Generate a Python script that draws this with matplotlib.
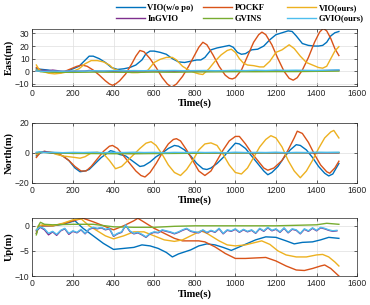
import numpy as np
import matplotlib
matplotlib.use("Agg")
import matplotlib.pyplot as plt

# ---------------- data ----------------
names = ["VIO(w/o po)", "POCKF", "VIO(ours)", "InGVIO", "GVINS", "GVIO(ours)"]
colors = ["#0072BD", "#D95319", "#EDB120", "#7E2F8E", "#77AC30", "#4DBEEE"]

# East
e_blue_t = [20,50,80,110,140,170,200,230,255,280,300,330,360,390,420,450,480,510,540,560,580,600,630,660,690,720,750,780,810,830,850,880,910,940,970,990,1010,1030,1050,1080,1110,1140,1170,1200,1230,1260,1280,1300,1330,1360,1390,1410,1430,1450,1470,1490,1510]
e_blue_v = [2,1.5,1,0,-1,0,2,4,8,12,12,10,7,3,1.5,2,3,5,9,14,16,16,15,13.5,10,7.5,7,8,9,9,11,17,18.5,19.5,20.5,19,15,13.5,14,17,17.5,20,25,29,30.5,32,31.5,28,22,20.5,20,20,20.5,23,28,30.5,31.5]
e_orng_t = [20,40,60,80,100,130,160,190,220,245,270,300,330,360,380,395,410,430,460,490,510,530,550,580,610,640,665,686,710,740,770,800,820,840,860,890,920,950,970,985,1000,1030,1060,1090,1115,1131,1150,1180,1210,1240,1265,1285,1305,1330,1360,1390,1415,1433,1450,1470,1490,1510]
e_orng_v = [3,1,0.5,0,-0.5,-1,0,2,4,5,4,1,-3,-7.5,-10,-11,-10,-7.5,-2,6,12,16.5,15.5,10,3,-5,-10,-12.5,-10,-4,4,13,19,23,21,13,4,-3,-5.5,-6,-5,1,12,23,29,31,29,21,10,0,-5.5,-7,-5,1,11,23,31,34,32,26,18,12.5]
e_yel_t = [20,35,50,80,110,140,170,200,230,260,290,320,350,380,400,430,460,490,520,550,570,600,630,660,690,710,740,770,800,820,840,870,900,930,960,980,1000,1020,1040,1060,1090,1120,1140,1170,1200,1230,1265,1290,1320,1350,1380,1410,1430,1450,1470,1490,1510]
e_yel_v = [5,1,0,-1.5,-2,-1.5,-0.5,0,2,6,8.5,8.5,7.5,5,2,0.5,-0.5,-1,-1,-0.5,1,7,9.5,11,11,9,4,1,-1,-2,-2.5,2,8,13,16.5,17.5,15,10,6.5,5,4.5,3.5,3.5,8,15,17,21,18,12,7,5,3,2.5,4,10,16,19.5]
e_pur_t = [20,40,60,80,100,120,140,160,200,260,280,300,320,400,500,600,700,800,900,1000,1100,1200,1300,1400,1510]
e_pur_v = [0.5,0.2,0.8,0.5,1,0.6,0.2,0,0,0.2,0.7,0.3,0,0,0.2,0.3,0.1,0.2,0.3,0.2,0.3,0.4,0.5,0.5,0.8]
e_grn_t = [20,40,60,100,200,300,400,500,600,700,800,900,1000,1100,1200,1300,1400,1510]
e_grn_v = [1,-0.3,-0.5,-0.7,-0.8,-0.6,-0.7,-0.8,-0.6,-0.7,-0.5,-0.4,-0.3,-0.3,-0.2,-0.2,0,0.2]
e_cyn_t = [20,40,60,100,150,200,250,300,350,400,450,500,550,600,650,700,750,800,850,900,950,1000,1050,1100,1150,1200,1250,1300,1350,1400,1450,1510]
e_cyn_v = [0.3,0.1,0,0.2,0.1,0.3,0.2,0.5,0.3,0.6,0.4,0.6,0.5,0.8,0.6,0.7,0.5,0.6,0.7,0.5,0.6,0.8,0.6,0.9,0.7,1.0,0.8,0.9,0.8,0.7,0.9,1.2]

# North
n_blue_t = [20,40,60,90,120,150,180,210,235,260,280,310,340,370,385,400,430,460,490,510,530,550,580,610,640,670,700,720,750,780,810,840,860,880,910,940,970,1000,1020,1050,1080,1110,1140,1160,1180,1210,1240,1270,1300,1320,1350,1380,1410,1440,1460,1480,1510]
n_blue_v = [-2,0,0.5,0,-0.5,-2,-5,-10,-12.5,-12,-11,-7,-3,0,1.5,1,-1,-2,-5,-7,-9,-8.5,-6,-2.5,0,3,5,4.5,2,-2,-7,-10.5,-11,-10,-7,-3,2,6.5,6,3,-2,-7,-12,-14.5,-13,-9,-3,2,5.5,5,2,-3,-9,-13.5,-15.3,-14,-7]
n_orng_t = [20,40,60,90,120,150,180,210,240,265,290,320,350,380,395,420,450,480,510,535,555,580,610,640,670,695,710,730,760,790,820,850,880,910,940,970,1000,1020,1050,1080,1110,1140,1160,1190,1230,1260,1290,1305,1330,1360,1390,1420,1450,1465,1490,1510]
n_orng_v = [-3,0.5,1,0.5,0,-2,-5,-9,-12,-12,-9,-4,1,4.5,5,3,-2,-7,-12,-15,-16,-13,-7,0,6,9,9.5,8,2,-5,-12,-15,-12,-5,2,8,11,11,6,0,-5,-10,-11.5,-10,-5,2,10,14.5,13,7,-1,-8,-12.5,-13.5,-10,-5.5]
n_yel_t = [20,40,60,90,120,150,180,210,235,260,290,320,350,380,410,440,470,500,530,560,585,610,640,670,700,730,760,790,820,850,880,910,940,970,1000,1030,1060,1090,1120,1150,1175,1200,1230,1260,1290,1320,1350,1380,1410,1440,1470,1485,1510]
n_yel_v = [-1,0.5,1,0.5,-1,-2,-2.5,-3,-3.5,-2.5,0,0.5,-0.5,-5,-10.5,-9,-5,-1,3,6.5,7.5,5,-1,-8,-13,-15,-11,-5,2,6,6.7,5,-1,-8,-13,-14,-10,-3,4,9,11.5,10,4,-5,-12,-16.5,-12,-5,3,10,14,15,10]
n_pur_t = [20,40,60,80,100,150,200,300,400,500,600,700,800,900,1000,1100,1200,1300,1400,1510]
n_pur_v = [0,0.5,1,0.5,0,0,-0.3,0,-0.2,-0.3,-0.2,0,-0.1,0,0.1,0,0,0.1,0,0]
n_grn_t = [20,40,60,100,200,300,400,500,600,700,800,900,1000,1100,1200,1300,1400,1510]
n_grn_v = [0,0.5,0.3,0,-0.3,-0.4,-0.5,-0.5,-0.4,-0.3,-0.2,-0.1,0,0,0.1,0.1,0.2,0.2]
n_cyn_t = [20,40,60,100,150,200,250,300,350,400,450,500,550,600,650,700,750,800,850,900,950,1000,1050,1100,1150,1200,1250,1300,1350,1400,1450,1510]
n_cyn_v = [0.5,0.8,0.3,0.5,0.2,0.4,0.3,0.5,0.2,0.4,0.3,0.5,0.3,0.4,0.2,0.4,0.3,0.5,0.3,0.4,0.2,0.5,0.3,0.4,0.3,0.5,0.2,0.4,0.3,0.5,0.4,0.5]

# Up
u_blue_t = [20,30,50,100,150,210,250,300,350,400,450,500,540,580,620,660,690,720,780,820,860,900,940,980,1020,1060,1100,1150,1200,1250,1290,1330,1380,1420,1460,1510]
u_blue_v = [-1.5,-0.3,0,0,0.3,1,-0.5,-2,-3.5,-4.7,-4.5,-4.3,-3.8,-4,-4.5,-5.3,-6.2,-5.6,-4.8,-4,-3.6,-3.8,-4.3,-4.9,-4.2,-3.5,-2.8,-2.2,-2.3,-3,-3.6,-3.3,-3.2,-2.8,-2.3,-2.5]
u_orng_t = [20,30,50,100,150,200,250,300,350,400,450,500,520,560,600,650,700,740,780,820,850,900,950,1000,1050,1100,1150,1200,1250,1300,1340,1380,1420,1440,1470,1510]
u_orng_v = [-1.5,-0.3,0,0,0.4,1,1.5,0.8,0,-0.8,0,1,1.5,0.5,-0.5,-1.5,-2.5,-3,-3,-3,-3.2,-4.2,-5.5,-6.5,-6.5,-6.4,-6.3,-7,-8,-8.8,-8.9,-8.5,-8,-7.8,-8.5,-10]
u_yel_t = [20,30,50,100,150,200,240,280,320,360,400,450,500,550,600,650,700,740,780,830,860,920,960,1000,1050,1100,1130,1170,1210,1250,1300,1350,1400,1430,1460,1490,1510]
u_yel_v = [-1,0,0.2,0,0.5,1.2,1.4,0,-1,-2,-2.6,-2,-1.2,-1.2,-2,-2.8,-3.1,-2.8,-2,-1,-1.5,-3,-3.8,-4,-3.8,-3.3,-3,-3.7,-5,-5.8,-6.2,-6.2,-5.8,-5.7,-6.2,-7.2,-8]
u_grn_t = [20,30,40,60,100,200,300,400,500,600,700,800,900,1000,1100,1200,1300,1400,1450,1510]
u_grn_v = [-1.8,0,0.7,0.3,0.2,0.3,0.3,-0.2,-0.3,-0.3,-0.1,0,0,0,0,0,0.1,0.2,0.5,0.3]
u_noisy_t = np.arange(20, 1501, 20)
u_cyn_v = [-0.8,-0.2,-0.6,-1.5,-1.1,-1.7,-0.9,-0.5,-1.5,-1.0,-1.3,-0.7,-1.5,-0.6,-0.3,-0.5,-0.3,-0.7,-0.5,-2.0,
           -1.5,-1.2,0.2,-1.0,-1.5,-1.3,-1.7,-2.2,-1.5,-1.2,-1.3,-0.8,-1.0,-1.2,-1.5,-1.2,-0.8,-0.5,-1.0,-1.2,
           -1.3,-0.8,-1.3,-0.9,-1.2,-0.5,-1.5,-0.8,-1.0,-0.6,-1.2,-0.7,-1.1,-0.8,-1.4,-0.5,-1.0,-0.3,-0.9,-0.6,
           -1.2,-0.4,-1.3,-0.6,-0.8,-1.5,-0.6,-1.0,-0.4,-0.9,-0.3,-0.5,-0.8,-1.0,-0.9]
u_pur_v = [-1.0,-0.3,-0.8,-1.8,-1.2,-1.9,-1.0,-0.6,-1.7,-1.1,-1.4,-0.8,-1.6,-0.7,-0.4,-0.6,-0.4,-0.8,-0.6,-2.1,
           -1.6,-1.3,0.1,-1.1,-1.6,-1.4,-1.8,-2.3,-1.6,-1.3,-1.4,-0.9,-1.1,-1.3,-1.6,-1.3,-0.9,-0.6,-1.1,-1.3,
           -1.4,-0.9,-1.4,-1.0,-1.3,-0.6,-1.6,-0.9,-1.1,-0.7,-1.3,-0.8,-1.2,-0.9,-1.5,-0.6,-1.1,-0.4,-1.0,-0.7,
           -1.3,-0.5,-1.4,-0.7,-0.9,-1.6,-0.7,-1.1,-0.5,-1.0,-0.4,-0.6,-0.9,-1.1,-1.0]

xticks = [0, 200, 400, 600, 800, 1000, 1200, 1400, 1600]

# ---------------- style ----------------
serif_b = dict(family="Liberation Serif", weight="bold")
plt.rcParams["font.family"] = ["Liberation Sans", "DejaVu Sans"]
plt.rcParams["font.size"] = 6.2
axcol = "#262626"

fig = plt.figure(figsize=(3.7, 3.05), dpi=100)
left, width = 0.0873, 0.878
ax1 = fig.add_axes([left, 0.718, width, 0.187])
ax2 = fig.add_axes([left, 0.400, width, 0.197])
ax3 = fig.add_axes([left, 0.095, width, 0.191])

def style(ax, ylim, yticks, ylabel, xlabelpad):
    ax.set_xlim(0, 1600)
    ax.set_ylim(*ylim)
    ax.set_xticks(xticks)
    ax.set_yticks(yticks)
    ax.grid(True, color="#dedede", linewidth=0.5)
    ax.set_axisbelow(True)
    ax.tick_params(direction="in", length=2.5, width=0.5, top=True, right=True,
                   colors=axcol, labelcolor=axcol, labelsize=6.2, pad=2)
    for s in ax.spines.values():
        s.set_color(axcol)
        s.set_linewidth(0.5)
    ax.set_xlabel("Time(s)", fontsize=7.5, labelpad=xlabelpad, **serif_b)
    ax.set_ylabel(ylabel, fontsize=7.5, labelpad=1, **serif_b)

lw = 1.0
east = [(e_blue_t, e_blue_v), (e_orng_t, e_orng_v), (e_yel_t, e_yel_v),
        (e_pur_t, e_pur_v), (e_grn_t, e_grn_v), (e_cyn_t, e_cyn_v)]
north = [(n_blue_t, n_blue_v), (n_orng_t, n_orng_v), (n_yel_t, n_yel_v),
         (n_pur_t, n_pur_v), (n_grn_t, n_grn_v), (n_cyn_t, n_cyn_v)]
up = [(u_blue_t, u_blue_v), (u_orng_t, u_orng_v), (u_yel_t, u_yel_v),
      (u_noisy_t, u_pur_v), (u_grn_t, u_grn_v), (u_noisy_t, u_cyn_v)]

handles = []
for (t, v), c, n in zip(east, colors, names):
    h, = ax1.plot(t, v, color=c, lw=lw, label=n)
    handles.append(h)
for (t, v), c in zip(north, colors):
    ax2.plot(t, v, color=c, lw=lw)
for (t, v), c in zip(up, colors):
    ax3.plot(t, v, color=c, lw=lw)

style(ax1, (-11.6, 33.5), [-10, 0, 10, 20, 30], "East(m)", 0.5)
style(ax2, (-20, 20), [-20, 0, 20], "North(m)", 0.5)
style(ax3, (-10, 1.6), [-10, -5, 0], "Up(m)", 1.5)

# legend: three columns of equal width, as in the original
col_x = [116 / 370, 203 / 370, 287 / 370]
for i, x in enumerate(col_x):
    hs = [handles[i], handles[i + 3]]
    fig.legend(hs, [h.get_label() for h in hs], loc="upper left",
               bbox_to_anchor=(x, 1 - 4 / 305), frameon=False, ncol=1,
               borderpad=0, borderaxespad=0, handlelength=3.4, handletextpad=0.25,
               labelspacing=0.3, prop=dict(family="Liberation Serif", weight="bold", size=6.2))

fig.savefig("out.png", dpi=100)
